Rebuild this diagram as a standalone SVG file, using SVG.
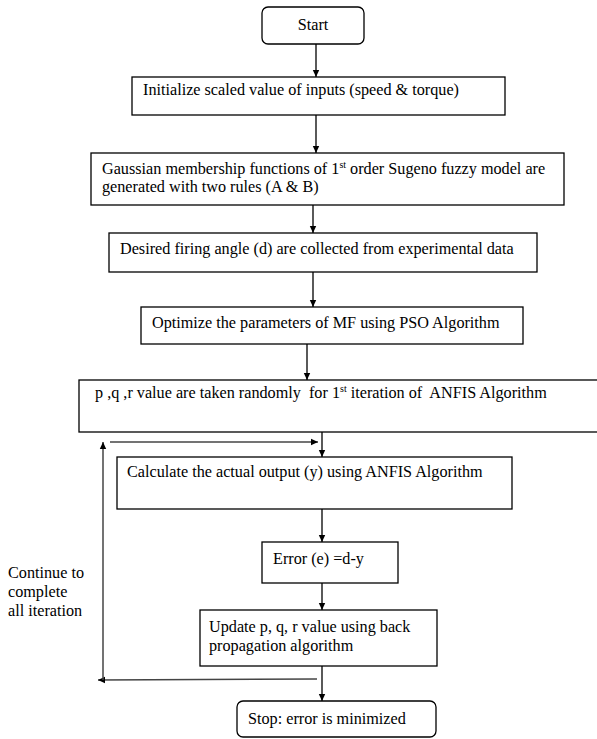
<svg xmlns="http://www.w3.org/2000/svg" width="597" height="739" viewBox="0 0 597 739">
<defs>
<marker id="ah" markerWidth="8" markerHeight="8" refX="7" refY="4" orient="auto" markerUnits="userSpaceOnUse">
<path d="M0,0.8 L7,4 L0,7.2 Z" fill="#000"/>
</marker>
<style>
.b{fill:#fff;stroke:#000;stroke-width:1.3}
.t{font-family:'Liberation Serif','Times New Roman',serif;font-size:16.2px;fill:#000;white-space:pre}
.s{font-size:10px}
.c{fill:none;stroke:#000;stroke-width:1.3}
.g{fill:none;stroke:#444;stroke-width:1.5}
</style>
</defs>
<rect width="597" height="739" fill="#fff"/>
<g id="connectors">
<line class="c" x1="316" y1="44" x2="316" y2="77" marker-end="url(#ah)"/>
<line class="c" x1="316" y1="115" x2="316" y2="153" marker-end="url(#ah)"/>
<line class="c" x1="313" y1="205" x2="313" y2="233" marker-end="url(#ah)"/>
<line class="c" x1="313" y1="272" x2="313" y2="307" marker-end="url(#ah)"/>
<line class="c" x1="307" y1="344" x2="307" y2="380" marker-end="url(#ah)"/>
<line class="c" x1="322" y1="432" x2="322" y2="457" marker-end="url(#ah)"/>
<line class="g" x1="110" y1="442" x2="318" y2="442" marker-end="url(#ah)"/>
<line class="c" x1="322" y1="509" x2="322" y2="542" marker-end="url(#ah)"/>
<line class="c" x1="322" y1="583" x2="322" y2="610" marker-end="url(#ah)"/>
<line class="c" x1="322" y1="666" x2="322" y2="701" marker-end="url(#ah)"/>
<line class="g" x1="317" y1="679" x2="98" y2="680" marker-end="url(#ah)"/>
<line class="g" x1="103" y1="680" x2="103" y2="442" marker-end="url(#ah)"/>
</g>
<g id="start">
<rect class="b" x="262" y="7" width="102" height="37" rx="6"/>
<text class="t" x="313" y="30" text-anchor="middle">Start</text>
</g>
<g id="init">
<rect class="b" x="132" y="77" width="373" height="38"/>
<text class="t" x="143" y="95">Initialize scaled value of inputs (speed &amp; torque)</text>
</g>
<g id="gaussian">
<rect class="b" x="91" y="153" width="473" height="52"/>
<text class="t" x="102" y="174">Gaussian membership functions of 1<tspan class="s" dy="-6">st</tspan><tspan dy="6"> order Sugeno fuzzy model are</tspan></text>
<text class="t" x="102" y="192">generated with two rules (A &amp; B)</text>
</g>
<g id="desired">
<rect class="b" x="109" y="233" width="428" height="39"/>
<text class="t" x="120" y="254">Desired firing angle (d) are collected from experimental data</text>
</g>
<g id="optimize">
<rect class="b" x="141" y="307" width="382" height="37"/>
<text class="t" x="152" y="328">Optimize the parameters of MF using PSO Algorithm</text>
</g>
<g id="pqr">
<rect class="b" x="79" y="380" width="530" height="52"/>
<text class="t" x="95" y="398">p ,q ,r value are taken randomly  for 1<tspan class="s" dy="-6">st</tspan><tspan dy="6"> iteration of  ANFIS Algorithm</tspan></text>
</g>
<g id="calculate">
<rect class="b" x="117" y="457" width="395" height="52"/>
<text class="t" x="127" y="477">Calculate the actual output (y) using ANFIS Algorithm</text>
</g>
<g id="error">
<rect class="b" x="262" y="542" width="136" height="41"/>
<text class="t" x="273" y="564">Error (e) =d-y</text>
</g>
<g id="update">
<rect class="b" x="200" y="610" width="237" height="56"/>
<text class="t" x="209" y="632">Update p, q, r value using back</text>
<text class="t" x="209" y="651">propagation algorithm</text>
</g>
<g id="stop">
<rect class="b" x="237" y="701" width="199" height="36" rx="6"/>
<text class="t" x="248" y="724">Stop: error is minimized</text>
</g>
<g id="loop-label">
<text class="t" x="8" y="578">Continue to</text>
<text class="t" x="8" y="597">complete</text>
<text class="t" x="8" y="616">all iteration</text>
</g>
</svg>
